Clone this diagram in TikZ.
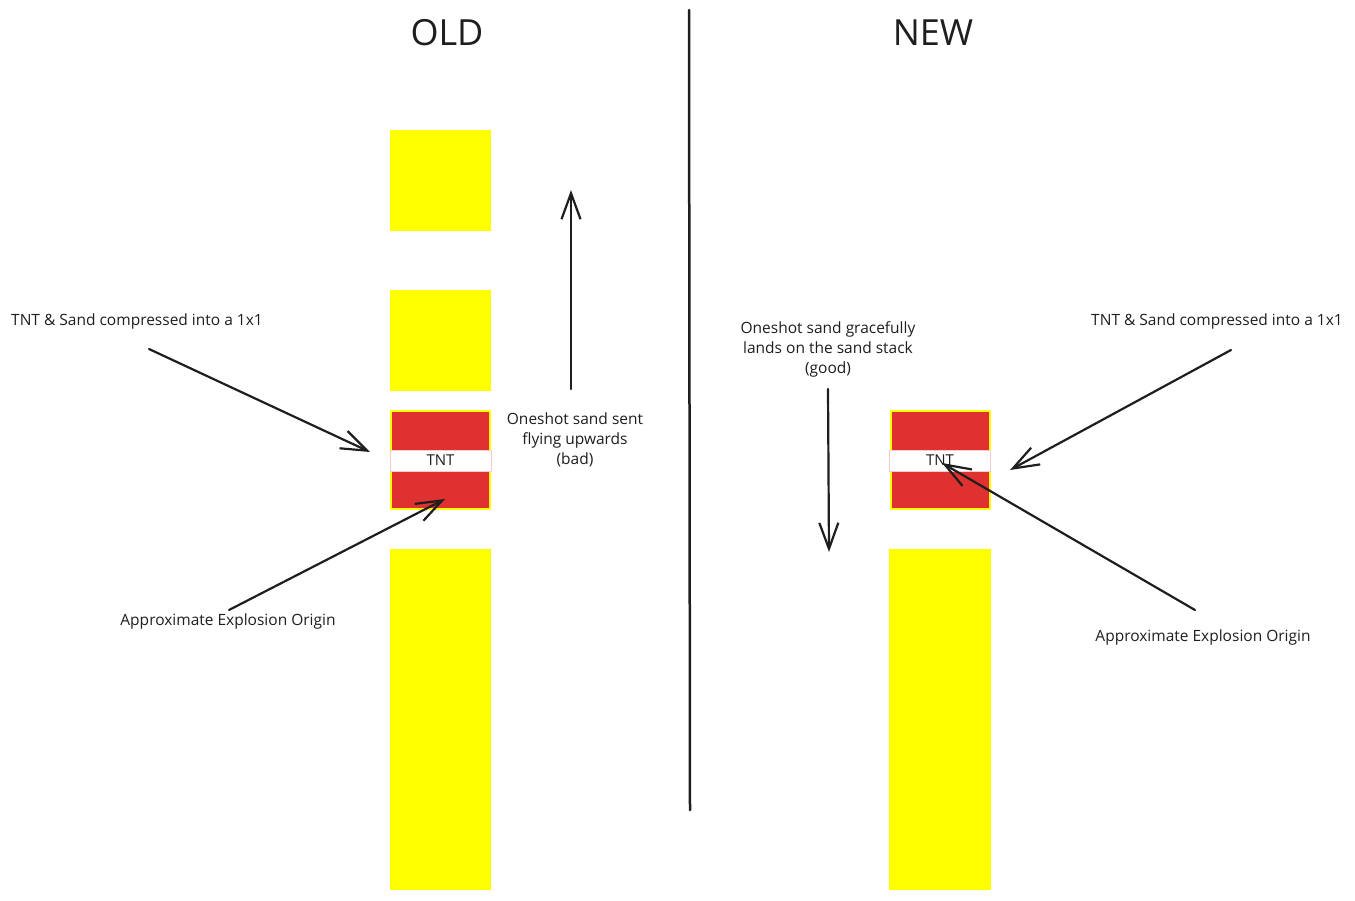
\documentclass[tikz,border=0pt]{standalone}
\usepackage{fontspec}
\setmainfont{Open Sans}
\usepackage{tikz}
\usetikzlibrary{arrows.meta}
\definecolor{sandyellow}{HTML}{FFFF00}
\definecolor{tntred}{HTML}{E03131}
\definecolor{ink}{HTML}{1E1E1E}
\tikzset{
  sandblock/.style={fill=sandyellow,inner sep=0pt,minimum width=101pt},
  tntblock/.style={fill=tntred,draw=sandyellow,line width=2pt,inner sep=0pt,minimum width=99pt,minimum height=98pt},
  tntstrip/.style={fill=white,draw=tntred!25,line width=0.5pt,inner sep=0pt,minimum width=101pt,minimum height=21pt,text=ink,font=\fontsize{15}{18}\selectfont},
  note/.style={text=ink,align=center,inner sep=0pt,font=\fontsize{15.5}{20}\selectfont},
  heading/.style={text=ink,inner sep=0pt,font=\fontsize{36}{40}\selectfont},
  arrowline/.style={draw=ink,line width=2.2pt,->}
}

\begin{document}
\begin{tikzpicture}[x=1pt,y=-1pt,line cap=round,line join=round,>={Straight Barb[length=26pt,width=19pt,line width=2.2pt]}]
\useasboundingbox (0,0) rectangle (1355,900);
% old side
\node[heading] (oldtitle) at (447,33) {OLD};
\node[sandblock,minimum height=101pt] (oldsanda) at (440.5,180.5) {};
\node[sandblock,minimum height=101pt] (oldsandb) at (440.5,340.5) {};
\node[tntblock] (oldtnt) at (440.5,460) {};
\node[tntstrip] (oldstrip) at (440.5,460.5) {TNT};
\node[sandblock,minimum height=341pt] (oldsandc) at (440.5,719.5) {};
\node[note] (oldcomp) at (137,321) {TNT \& Sand compressed into a 1x1};
\node[note] (oldorigin) at (228,621) {Approximate Explosion Origin};
\node[note] (oldfly) at (575,440) {Oneshot sand sent\\flying upwards\\(bad)};
\coordinate (oldcomptail) at (149,349);
\coordinate (oldcomptip) at (370,452);
\coordinate (oldorigintail) at (229,610);
\coordinate (oldorigintip) at (445,499);
\coordinate (oldflytail) at (571,389);
\coordinate (oldflytip) at (571,190);
\draw[arrowline] (oldcomptail) -- (oldcomptip);
\draw[arrowline] (oldorigintail) -- (oldorigintip);
\draw[arrowline] (oldflytail) -- (oldflytip);
% divider
\coordinate (divtop) at (689,10);
\coordinate (divbottom) at (690,810);
\draw[ink,line width=2.5pt] (divtop) -- (divbottom);
% new side
\node[heading] (newtitle) at (933,33) {NEW};
\node[tntblock] (newtnt) at (940,460) {};
\node[tntstrip] (newstrip) at (940,460.5) {TNT};
\node[sandblock,minimum width=102pt,minimum height=341pt] (newsand) at (940,719.5) {};
\node[note] (newcomp) at (1217,321) {TNT \& Sand compressed into a 1x1};
\node[note] (neworigin) at (1203,637) {Approximate Explosion Origin};
\node[note] (newland) at (828,349) {Oneshot sand gracefully\\lands on the sand stack\\(good)};
\coordinate (newcomptail) at (1231,350);
\coordinate (newcomptip) at (1010,470);
\coordinate (neworigintail) at (1195,610);
\coordinate (neworigintip) at (942,463);
\coordinate (newlandtail) at (828,389);
\coordinate (newlandtip) at (829,552);
\draw[arrowline] (newcomptail) -- (newcomptip);
\draw[arrowline] (neworigintail) -- (neworigintip);
\draw[arrowline] (newlandtail) -- (newlandtip);
\end{tikzpicture}
\end{document}
